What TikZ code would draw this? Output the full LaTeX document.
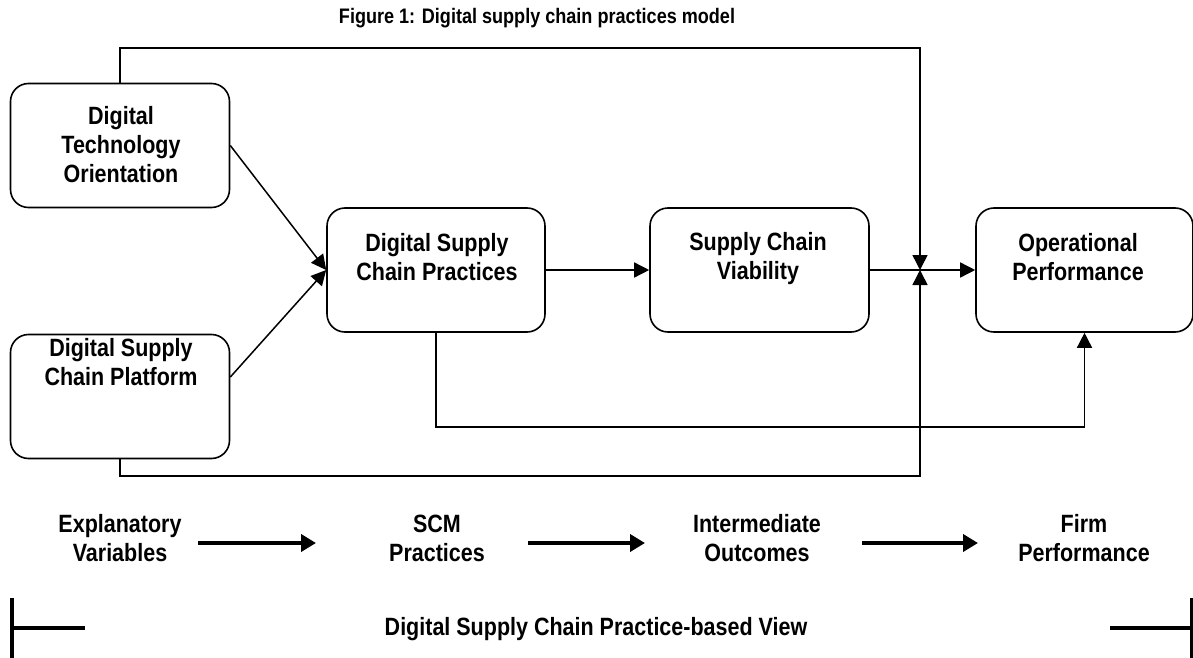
\documentclass[tikz,border=0pt]{standalone}
\usepackage{fontspec}
\setmainfont{Liberation Sans}[FakeStretch=0.86]
\usetikzlibrary{arrows.meta}

\tikzset{
  blk/.style={draw, line width=1.6pt, rounded corners=18pt, inner sep=0pt,
    minimum width=219pt, minimum height=124pt},
  lbl/.style={align=center, inner sep=0.75pt, font=\fontsize{25}{29}\selectfont\bfseries},
  conn/.style={line width=1.5pt, -{Triangle[length=15pt,width=15pt]}},
  fat/.style={line width=4.5pt, -{Triangle[length=15pt,width=17pt]}},
  bar/.style={line width=4pt},
}

\begin{document}
\begin{tikzpicture}[x=1pt,y=1pt,yscale=-1]
\useasboundingbox (0,0) rectangle (1193,658);

% Title
\node[lbl, font=\fontsize{21}{25}\selectfont\bfseries] (title) at (537,18) {Figure 1: Digital supply chain practices model};

% Blocks
\node[blk] (dto) at (120,145.5) {};
\node[blk] (plat) at (120,396.5) {};
\node[blk, minimum width=218pt] (prac) at (436,270) {};
\node[blk] (scv) at (759.5,270) {};
\node[blk, minimum width=217pt] (op) at (1084.5,270) {};

% Text Node
\node[lbl] (dtoT) at (121,145) {Digital\\Technology\\Orientation};
% Text Node
\node[lbl] (platT) at (121,362) {Digital Supply\\Chain Platform};
% Text Node
\node[lbl] (pracT) at (437,257.5) {Digital Supply\\Chain Practices};
% Text Node
\node[lbl] (scvT) at (758,259) {Supply Chain\\Viability};
% Text Node
\node[lbl] (opT) at (1078,257.5) {Operational\\Performance};

% junction points
\coordinate (jn) at (920,270);
\coordinate (topc) at (920,48);
\coordinate (botc) at (920,476);
\coordinate (pc) at (436,427);

% Straight Lines
\draw[conn] (dto.east) -- (prac.west);
\draw[conn] (plat.10) -- (prac.west);
\draw[conn] (prac.east) -- (scv.west);
\draw[conn] (scv.east) -- (op.west);
% Elbow Lines
\draw[conn] (dto.north) |- (topc) -- (jn);
\draw[conn] (plat.south) |- (botc) -- (jn);
\draw[conn] (prac.south) -- (pc) -| (op.south);

% Text Node
\node[lbl] (expl) at (120,538) {Explanatory\\Variables};
\node[lbl] (scm) at (437,538) {SCM\\Practices};
\node[lbl] (inter) at (757,538) {Intermediate\\Outcomes};
\node[lbl] (firm) at (1084,538) {Firm\\Performance};

\coordinate (a1) at (198,543);
\coordinate (a2) at (316,543);
\coordinate (b1) at (528,543);
\coordinate (b2) at (645,543);
\coordinate (c1) at (862,543);
\coordinate (c2) at (978,543);
\draw[fat] (a1) -- (a2);
\draw[fat] (b1) -- (b2);
\draw[fat] (c1) -- (c2);

% bracket
\draw[bar] (12,598) -- (12,660);
\draw[bar] (12,628) -- (85,628);
\draw[bar] (1110,628) -- (1193,628);
\draw[bar] (1192,598) -- (1192,660);
\node[lbl] (view) at (596,629) {Digital Supply Chain Practice-based View};

\end{tikzpicture}
\end{document}
